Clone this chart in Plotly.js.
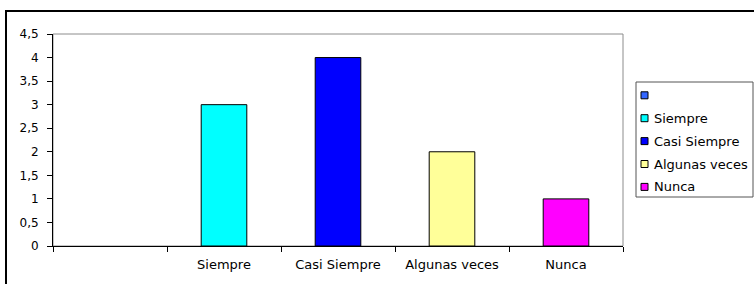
<!DOCTYPE html>
<html>
<head>
<meta charset="utf-8">
<script src="https://cdn.plot.ly/plotly-3.0.1.min.js"></script>
<style>
  html, body { margin: 0; padding: 0; background: #fff; }
  #chart { width: 754px; height: 284px; }
</style>
</head>
<body>
<div id="chart"></div>
<script>
// ---- data ----
const categories = ["", "Siempre", "Casi Siempre", "Algunas veces", "Nunca"];
const values = [0, 3, 4, 2, 1];
const colors = ["#3366FF", "#00FFFF", "#0000FF", "#FFFF99", "#FF00FF"];
const yTickVals = [0, 0.5, 1, 1.5, 2, 2.5, 3, 3.5, 4, 4.5];

// ---- geometry (pixels) ----
const W = 754, H = 284;
const plotL = 53, plotR = 623, plotT = 34, plotB = 246;
const pw = plotR - plotL, ph = plotB - plotT;
const px = x => (x - plotL) / pw;
const py = y => (plotB - y) / ph;

const labels = categories.map(c => c === "" ? " " : c);

const traces = categories.map((c, i) => ({
  type: "bar",
  x: [labels[i]],
  y: [values[i]],
  width: [0.4],
  name: c,
  showlegend: false,
  marker: { color: colors[i], line: { color: "#000000", width: values[i] ? 1 : 0 } },
  hoverinfo: "x+y"
}));

const shapes = [
  // outer chart border (only top/left visible)
  { type: "rect", xref: "paper", yref: "paper",
    x0: px(6), x1: px(W + 20), y0: py(H + 20), y1: py(11),
    line: { color: "#000000", width: 2 }, layer: "below" },
  // plot area frame (grey)
  { type: "rect", xref: "paper", yref: "paper",
    x0: 0, x1: 1, y0: 0, y1: 1,
    line: { color: "#8c8c8c", width: 1 }, layer: "below" },
  // legend box
  { type: "rect", xref: "paper", yref: "paper",
    x0: px(636), x1: px(753), y0: py(197), y1: py(82),
    line: { color: "#555555", width: 1 }, fillcolor: "#ffffff", layer: "above" }
];
const annotations = [];
const legTop = 95.3, legStep = 22.9;
categories.forEach((c, i) => {
  const cy = legTop + i * legStep;
  shapes.push({ type: "rect", xref: "paper", yref: "paper",
    x0: px(641), x1: px(648), y0: py(cy + 3.5), y1: py(cy - 3.5),
    fillcolor: colors[i], line: { color: "#000000", width: 1 }, layer: "above" });
  if (c !== "") {
    annotations.push({ xref: "paper", yref: "paper", x: px(652), y: py(cy),
      xanchor: "left", yanchor: "middle", showarrow: false, text: c,
      font: { family: "DejaVu Sans", size: 13, color: "#000000" } });
  }
});

const layout = {
  width: W, height: H,
  margin: { l: plotL, r: W - plotR, t: plotT, b: H - plotB, pad: 0 },
  paper_bgcolor: "#ffffff", plot_bgcolor: "#ffffff",
  separators: ",.",
  font: { family: "DejaVu Sans", size: 13, color: "#000000" },
  barmode: "overlay",
  showlegend: false,
  xaxis: {
    type: "category", categoryorder: "array", categoryarray: labels,
    range: [-0.5, categories.length - 0.5],
    tickson: "boundaries", ticks: "outside", ticklen: 5, tickcolor: "#000000", tickwidth: 1,
    ticklabelstandoff: 6,
    showline: true, linecolor: "#000000", linewidth: 1,
    showgrid: false, zeroline: false, fixedrange: true,
    tickfont: { family: "DejaVu Sans", size: 13, color: "#000000" }
  },
  yaxis: {
    range: [0, 4.5], tickvals: yTickVals,
    ticks: "outside", ticklen: 5, tickcolor: "#000000", tickwidth: 1,
    ticklabelstandoff: 6,
    showline: true, linecolor: "#000000", linewidth: 1,
    showgrid: false, zeroline: false, fixedrange: true,
    tickfont: { family: "DejaVu Sans", size: 12, color: "#000000" }
  },
  shapes: shapes,
  annotations: annotations
};

Plotly.newPlot("chart", traces, layout, { displayModeBar: false, staticPlot: true });
</script>
</body>
</html>
